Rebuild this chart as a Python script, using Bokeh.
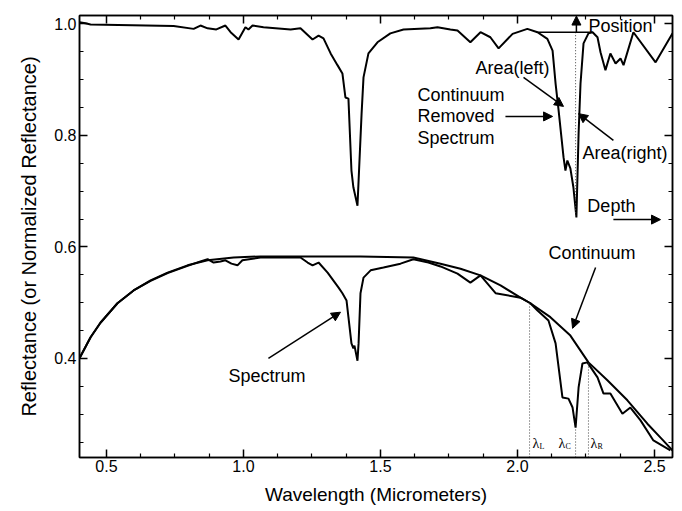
from bokeh.plotting import figure
from bokeh.models import Range1d, FixedTicker, LinearAxis, Arrow, NormalHead, ColumnDataSource, PrintfTickFormatter
from bokeh.core.properties import value
from bokeh.embed import file_html
from bokeh.resources import INLINE

# ---------------- data ----------------
cont_x = [0.401, 0.442, 0.478, 0.540, 0.599, 0.661, 0.723, 0.796, 0.869, 0.964, 1.062, 1.427,
          1.620, 1.719, 1.792, 1.865, 1.938, 2.011, 2.047, 2.120, 2.193, 2.259, 2.328, 2.401,
          2.474, 2.522, 2.566]
cont_y = [0.400, 0.438, 0.464, 0.499, 0.522, 0.540, 0.554, 0.567, 0.576, 0.581, 0.583, 0.583,
          0.581, 0.570, 0.561, 0.549, 0.531, 0.509, 0.499, 0.474, 0.441, 0.393, 0.361, 0.325,
          0.283, 0.258, 0.235]

spec_x = [0.401, 0.442, 0.478, 0.540, 0.599, 0.661, 0.723, 0.796, 0.843, 0.869, 0.891, 0.916,
          0.934, 0.956, 0.978, 0.996, 1.062, 1.208, 1.234, 1.252, 1.274, 1.307, 1.347, 1.361,
          1.376, 1.383, 1.394, 1.401, 1.405, 1.416, 1.420, 1.427, 1.438, 1.464, 1.511, 1.573,
          1.620, 1.675, 1.719, 1.781, 1.828, 1.865, 1.920, 2.011, 2.047, 2.073, 2.113, 2.139,
          2.164, 2.186, 2.201, 2.212, 2.223, 2.237, 2.255, 2.292, 2.314, 2.339, 2.383, 2.412,
          2.449, 2.496, 2.558]
spec_y = [0.400, 0.438, 0.464, 0.499, 0.522, 0.539, 0.553, 0.566, 0.574, 0.578, 0.572, 0.574,
          0.576, 0.570, 0.567, 0.576, 0.581, 0.581, 0.572, 0.567, 0.572, 0.554, 0.527, 0.517,
          0.504, 0.474, 0.427, 0.418, 0.423, 0.396, 0.427, 0.517, 0.545, 0.558, 0.563, 0.570,
          0.578, 0.572, 0.565, 0.552, 0.536, 0.549, 0.517, 0.509, 0.499, 0.486, 0.468, 0.427,
          0.330, 0.328, 0.312, 0.276, 0.348, 0.391, 0.393, 0.366, 0.337, 0.337, 0.301, 0.312,
          0.289, 0.253, 0.235]

crs_x = [0.401, 0.423, 0.442, 0.745, 0.818, 0.843, 0.869, 0.901, 0.934, 0.953, 0.982, 1.007,
         1.018, 1.033, 1.073, 1.172, 1.208, 1.252, 1.274, 1.292, 1.318, 1.343, 1.361, 1.372,
         1.383, 1.394, 1.401, 1.416, 1.431, 1.438, 1.456, 1.489, 1.536, 1.584, 1.682, 1.708,
         1.755, 1.781, 1.828, 1.865, 1.901, 1.931, 1.982, 2.036, 2.073, 2.109, 2.128, 2.139,
         2.150, 2.168, 2.175, 2.182, 2.193, 2.204, 2.215, 2.223, 2.230, 2.241, 2.259, 2.274,
         2.292, 2.303, 2.321, 2.339, 2.358, 2.376, 2.387, 2.423, 2.504, 2.566]
crs_y = [1.003, 1.001, 0.999, 0.996, 0.991, 0.997, 0.992, 0.990, 0.997, 0.985, 0.972, 0.994,
         0.990, 0.997, 0.994, 0.990, 0.992, 0.972, 0.979, 0.974, 0.947, 0.926, 0.911, 0.868,
         0.866, 0.737, 0.707, 0.674, 0.839, 0.904, 0.947, 0.967, 0.983, 0.990, 0.992, 0.994,
         0.990, 0.988, 0.967, 0.985, 0.976, 0.956, 0.982, 0.991, 0.985, 0.973, 0.952, 0.893,
         0.845, 0.761, 0.737, 0.755, 0.741, 0.707, 0.653, 0.804, 0.893, 0.965, 0.983, 0.985,
         0.976, 0.949, 0.917, 0.947, 0.929, 0.938, 0.926, 0.985, 0.931, 0.983]

# feature wavelengths
lam_left, lam_center, lam_right = 2.044, 2.212, 2.259
lam_top = [0.499, 0.276, 0.393]
crs_center_min = 0.653
shoulder_level = 0.985
shoulder_x = [2.073, 2.274]

x_major = [0.5, 1.0, 1.5, 2.0, 2.5]
x_minor = [0.625, 0.75, 0.875, 1.125, 1.25, 1.375, 1.625, 1.75, 1.875, 2.125, 2.25, 2.375]
y_major = [0.4, 0.6, 0.8, 1.0]
y_minor = [0.25, 0.3, 0.35, 0.45, 0.5, 0.55, 0.65, 0.7, 0.75, 0.85, 0.9, 0.95]

notes = ["Position", "Area(left)", "Continuum", "Removed", "Spectrum", "Area(right)", "Depth",
         "Continuum", "Spectrum"]
notes_x = [2.259, 1.847, 1.635, 1.635, 1.635, 2.237, 2.255, 2.113, 0.945]
notes_y = [0.997, 0.920, 0.872, 0.834, 0.796, 0.768, 0.673, 0.590, 0.368]

# arrows: (x_start, y_start, x_end, y_end)
arrows = [
    (2.215, 0.985, 2.215, 1.014),   # Position
    (2.022, 0.904, 2.168, 0.852),   # Area(left)
    (1.956, 0.834, 2.128, 0.834),   # Continuum Removed Spectrum
    (2.350, 0.791, 2.223, 0.839),   # Area(right)
    (2.350, 0.649, 2.522, 0.649),   # Depth
    (2.285, 0.563, 2.201, 0.454),   # Continuum
    (1.091, 0.400, 1.354, 0.483),   # Spectrum
]

lam_labels_x = [2.055, 2.150, 2.266]
lam_sub = ["L", "C", "R"]
lam_label_y = 0.2475

FONT = "Liberation Sans"

p = figure(width=682, height=511, output_backend="svg", toolbar_location=None,
           x_range=Range1d(0.4015, 2.5657), y_range=Range1d(0.2224, 1.015),
           min_border_left=79, min_border_top=15, min_border_right=10, min_border_bottom=54)
p.xgrid.grid_line_color = None
p.ygrid.grid_line_color = None
p.outline_line_color = "black"
p.outline_line_width = 1.5
p.background_fill_color = "white"
p.border_fill_color = "white"


def style_axis(ax, labels=True):
    ax.axis_line_color = "black"
    ax.axis_line_width = 1.5
    ax.major_tick_line_color = "black"
    ax.minor_tick_line_color = "black"
    ax.major_tick_line_width = 1.5
    ax.minor_tick_line_width = 1.2
    ax.major_tick_in = 8
    ax.major_tick_out = 0
    ax.minor_tick_in = 4
    ax.minor_tick_out = 0
    ax.formatter = PrintfTickFormatter(format="%.1f")
    if labels:
        ax.major_label_text_font = FONT
        ax.major_label_text_font_size = "16px"
        ax.major_label_text_color = "black"
        ax.major_label_standoff = 2
        ax.axis_label_text_font = FONT
        ax.axis_label_text_font_style = "normal"
        ax.axis_label_text_color = "black"
    else:
        ax.major_label_text_font_size = "1px"
        ax.major_label_text_color = None
        ax.major_label_standoff = 0


p.xaxis.ticker = FixedTicker(ticks=x_major, minor_ticks=x_minor)
p.yaxis.ticker = FixedTicker(ticks=y_major, minor_ticks=y_minor)
style_axis(p.xaxis[0])
style_axis(p.yaxis[0])
p.yaxis.major_label_standoff = 3
p.xaxis.axis_label = "Wavelength (Micrometers)"
p.xaxis.axis_label_text_font_size = "19px"
p.xaxis.axis_label_standoff = 9
p.yaxis.axis_label = "Reflectance (or Normalized Reflectance)"
p.yaxis.axis_label_text_font_size = "20px"
p.yaxis.axis_label_standoff = 11

top_ax = LinearAxis(ticker=FixedTicker(ticks=x_major, minor_ticks=x_minor))
style_axis(top_ax, labels=False)
p.add_layout(top_ax, "above")
right_ax = LinearAxis(ticker=FixedTicker(ticks=y_major, minor_ticks=y_minor))
style_axis(right_ax, labels=False)
p.add_layout(right_ax, "right")

# curves
p.line(x=cont_x, y=cont_y, line_color="black", line_width=2)
p.line(x=spec_x, y=spec_y, line_color="black", line_width=2)
p.line(x=crs_x, y=crs_y, line_color="black", line_width=2)

# dotted markers
p.segment(x0=[lam_left, lam_center, lam_right], y0=[0.2224] * 3,
          x1=[lam_left, lam_center, lam_right], y1=lam_top,
          line_color="#444444", line_width=1, line_dash="1 2")
p.segment(x0=[lam_center], y0=[shoulder_level], x1=[lam_center], y1=[crs_center_min],
          line_color="#444444", line_width=1, line_dash="1 2")
p.segment(x0=[shoulder_x[0]], y0=[shoulder_level], x1=[shoulder_x[1]], y1=[shoulder_level],
          line_color="black", line_width=1.5)

# arrows
for (xs, ys, xe, ye) in arrows:
    p.add_layout(Arrow(end=NormalHead(size=9, fill_color="black", line_color="black", line_width=1),
                       x_start=xs, y_start=ys, x_end=xe, y_end=ye,
                       line_color="black", line_width=1.5))

# annotation texts
src = ColumnDataSource(dict(x=notes_x, y=notes_y, t=notes))
p.text(x="x", y="y", text="t", source=src, text_font=value(FONT), text_font_size="18px",
       text_color="black", text_align="left", text_baseline="middle")

# lambda labels
p.text(x=lam_labels_x, y=[lam_label_y] * 3, text=["λ"] * 3, text_font=value("Liberation Serif"),
       text_font_size="14px", text_color="black", text_align="left", text_baseline="middle")
p.text(x=lam_labels_x, y=[lam_label_y] * 3, text=lam_sub, text_font=value("Liberation Serif"),
       text_font_size="8px", text_color="black", text_align="left", text_baseline="middle",
       x_offset=7, y_offset=3)

open("out.html", "w").write(file_html(p, INLINE))
